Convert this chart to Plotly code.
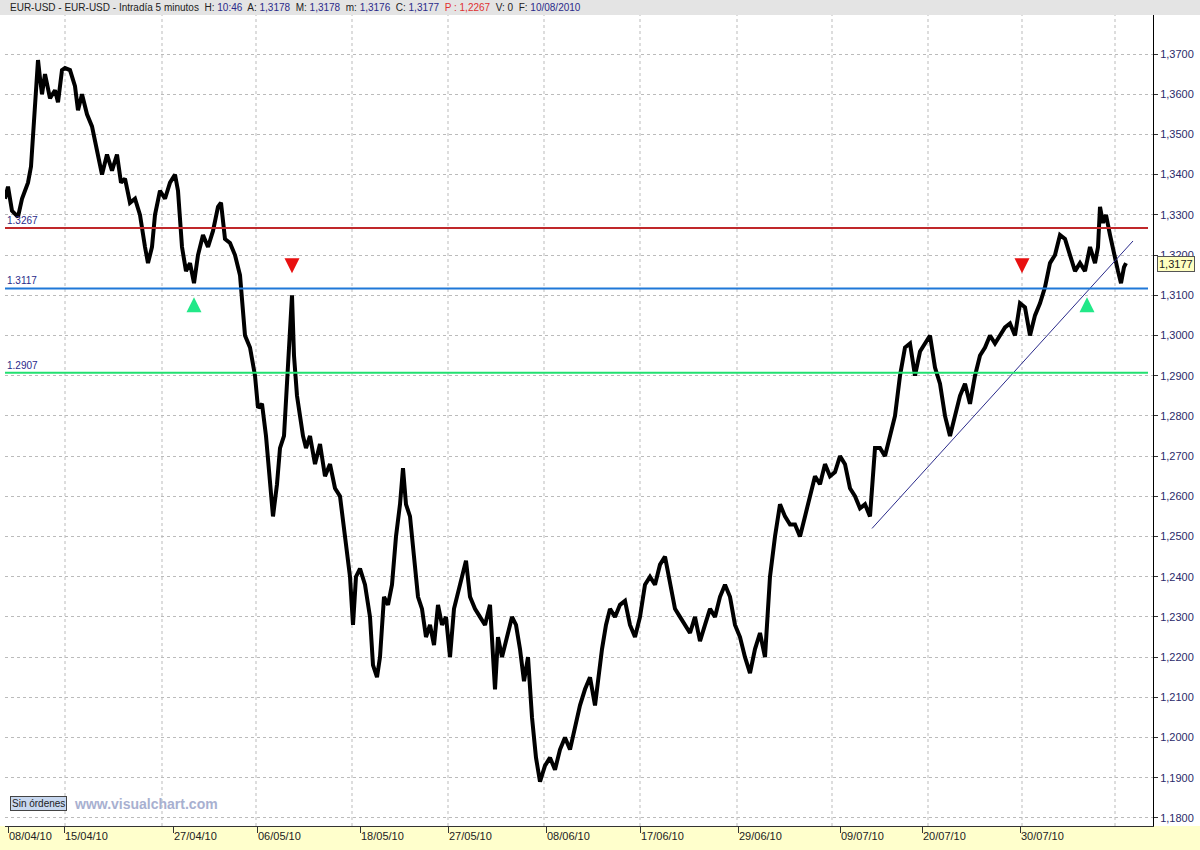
import plotly.graph_objects as go

bar_x = [5, 8, 12, 18, 22, 28, 31, 33, 35, 37, 38, 40, 42, 45, 50, 55, 58, 62, 65, 70, 75, 78, 82, 87, 92,
         97, 102, 107, 112, 117, 121, 125, 130, 135, 140, 145, 148, 152, 155, 160, 165, 170, 175, 178, 182,
         186, 190, 194, 198, 203, 208, 213, 218, 221, 225, 230, 235, 240, 245, 250, 255, 258, 262, 266, 270,
         273, 277, 280, 284, 287, 290, 292, 294, 297, 300, 303, 306, 310, 315, 320, 325, 330, 335, 340, 345,
         350, 353, 356, 360, 365, 370, 373, 377, 380, 384, 388, 392, 396, 400, 403, 406, 410, 414, 418, 422,
         426, 430, 434, 438, 442, 446, 450, 454, 458, 462, 466, 470, 475, 480, 485, 490, 495, 498, 502, 507,
         512, 516, 520, 524, 528, 532, 536, 540, 545, 550, 555, 560, 565, 570, 575, 580, 585, 590, 595, 598,
         602, 606, 610, 615, 620, 625, 630, 635, 640, 645, 650, 655, 660, 665, 670, 675, 680, 685, 690, 695,
         700, 705, 710, 715, 720, 725, 730, 735, 740, 745, 750, 755, 760, 765, 770, 775, 780, 785, 790, 795,
         800, 805, 810, 815, 820, 825, 830, 835, 840, 845, 850, 855, 860, 865, 870, 875, 880, 885, 890, 895,
         900, 905, 910, 915, 920, 925, 930, 935, 940, 945, 950, 955, 960, 965, 970, 975, 980, 985, 990, 995,
         1000, 1005, 1010, 1015, 1020, 1025, 1030, 1035, 1040, 1045, 1050, 1055, 1060, 1065, 1070, 1075,
         1080, 1085, 1090, 1095, 1098, 1100, 1103, 1106, 1110, 1114, 1118, 1121, 1124, 1126]
price = [1.334, 1.337, 1.331, 1.3295, 1.334, 1.338, 1.342, 1.350, 1.360, 1.366, 1.3685, 1.364, 1.360, 1.365,
         1.359, 1.361, 1.358, 1.366, 1.3665, 1.366, 1.362, 1.356, 1.360, 1.355, 1.352, 1.346, 1.340, 1.345,
         1.341, 1.345, 1.338, 1.339, 1.333, 1.334, 1.330, 1.322, 1.318, 1.322, 1.330, 1.336, 1.334, 1.338,
         1.340, 1.336, 1.322, 1.316, 1.318, 1.313, 1.320, 1.325, 1.322, 1.326, 1.332, 1.333, 1.324, 1.323,
         1.320, 1.315, 1.300, 1.297, 1.290, 1.282, 1.283, 1.275, 1.265, 1.255, 1.263, 1.272, 1.275, 1.290,
         1.300, 1.310, 1.295, 1.285, 1.280, 1.275, 1.272, 1.275, 1.268, 1.273, 1.265, 1.268, 1.262, 1.260,
         1.250, 1.240, 1.228, 1.240, 1.242, 1.238, 1.230, 1.218, 1.215, 1.220, 1.235, 1.233, 1.238, 1.250,
         1.258, 1.267, 1.258, 1.255, 1.245, 1.235, 1.232, 1.225, 1.228, 1.223, 1.233, 1.228, 1.230, 1.220,
         1.232, 1.236, 1.240, 1.244, 1.235, 1.232, 1.230, 1.228, 1.233, 1.212, 1.225, 1.220, 1.225, 1.230,
         1.228, 1.222, 1.214, 1.220, 1.205, 1.195, 1.189, 1.193, 1.195, 1.192, 1.197, 1.200, 1.197, 1.203,
         1.208, 1.212, 1.215, 1.208, 1.215, 1.222, 1.228, 1.232, 1.230, 1.233, 1.234, 1.228, 1.225, 1.230,
         1.238, 1.240, 1.238, 1.243, 1.245, 1.238, 1.232, 1.230, 1.228, 1.226, 1.230, 1.224, 1.228, 1.232,
         1.230, 1.235, 1.238, 1.235, 1.228, 1.225, 1.220, 1.216, 1.222, 1.226, 1.220, 1.240, 1.250, 1.258,
         1.255, 1.253, 1.253, 1.250, 1.255, 1.260, 1.265, 1.263, 1.268, 1.265, 1.266, 1.270, 1.268, 1.262,
         1.260, 1.257, 1.258, 1.255, 1.272, 1.272, 1.270, 1.275, 1.280, 1.290, 1.297, 1.298, 1.290, 1.296,
         1.298, 1.300, 1.292, 1.288, 1.280, 1.275, 1.280, 1.285, 1.288, 1.283, 1.290, 1.295, 1.297, 1.300,
         1.298, 1.300, 1.302, 1.303, 1.300, 1.308, 1.307, 1.300, 1.305, 1.308, 1.312, 1.318, 1.320, 1.325,
         1.324, 1.320, 1.316, 1.318, 1.316, 1.322, 1.318, 1.322, 1.332, 1.328, 1.330, 1.325, 1.320, 1.316,
         1.313, 1.317, 1.318]

levels = [1.3267, 1.3117, 1.2907]
level_labels = ["1.3267", "1.3117", "1.2907"]
level_colors = ["#c0282a", "#1f78d8", "#22e070"]

trend_x = [872, 1133]
trend_y = [1.252, 1.3235]

up_x = [194, 1087]
up_y = [1.3095, 1.3095]
down_x = [292, 1022]
down_y = [1.3155, 1.3155]

date_pos = [8, 64, 173, 257, 360, 448, 546, 640, 738, 840, 922, 1020]
date_text = ["08/04/10", "15/04/10", "27/04/10", "06/05/10", "18/05/10", "27/05/10",
             "08/06/10", "17/06/10", "29/06/10", "09/07/10", "20/07/10", "30/07/10"]
grid_x = [65, 162, 256, 352, 448, 544, 640, 737, 832, 928, 1022, 1115]
price_ticks = [1.18 + 0.01 * i for i in range(21)]

fig = go.Figure()
fig.add_trace(go.Scatter(x=bar_x, y=price, mode="lines", line=dict(color="black", width=4)))
fig.add_trace(go.Scatter(x=trend_x, y=trend_y, mode="lines", line=dict(color="#2a2a8a", width=1)))
fig.add_trace(go.Scatter(x=up_x, y=up_y, mode="markers",
                         marker=dict(symbol="arrow-up", size=15, color="#22e888")))
fig.add_trace(go.Scatter(x=down_x, y=down_y, mode="markers",
                         marker=dict(symbol="arrow-down", size=15, color="#e81010")))

shapes = []
for gx in grid_x:
    shapes.append(dict(type="line", xref="x", yref="paper", x0=gx, x1=gx, y0=0, y1=1,
                       line=dict(color="#bbbbbb", width=1, dash="dot"), layer="below"))
for lv, col in zip(levels, level_colors):
    shapes.append(dict(type="line", xref="x", yref="y", x0=5, x1=1148, y0=lv, y1=lv,
                       line=dict(color=col, width=2)))
# header and date band
shapes.append(dict(type="rect", xref="paper", yref="paper", x0=-0.01, x1=1.05, y0=1.0, y1=1.03,
                   fillcolor="#e4e4e4", line=dict(width=0)))
shapes.append(dict(type="rect", xref="paper", yref="paper", x0=-0.01, x1=1.05, y0=-0.04, y1=0,
                   fillcolor="#ffffcc", line=dict(width=0), layer="below"))

annotations = []
for lv, lab in zip(levels, level_labels):
    annotations.append(dict(x=5, y=lv, xref="x", yref="y", text=lab, showarrow=False,
                            xanchor="left", yanchor="bottom", font=dict(size=10, color="#2a2a8a")))
annotations.append(dict(x=0.003, y=1.0, xref="paper", yref="paper", xanchor="left", yanchor="bottom",
                        showarrow=False, font=dict(size=10, color="#222"),
                        text="EUR-USD - EUR-USD - Intradía 5 minutos  H: <span style='color:#2a2a8a'>10:46</span>"
                             "  A: <span style='color:#2a2a8a'>1,3178</span>  M: <span style='color:#2a2a8a'>1,3178</span>"
                             "  m: <span style='color:#2a2a8a'>1,3176</span>  C: <span style='color:#2a2a8a'>1,3177</span>"
                             "  <span style='color:#e03030'>P : 1,2267</span>  V: 0  F: <span style='color:#2a2a8a'>10/08/2010</span>"))
annotations.append(dict(x=1.0, y=1.3177, xref="paper", yref="y", xanchor="left", xshift=4, text="1,3177",
                        showarrow=False, bgcolor="#ffffc0", bordercolor="#555", borderwidth=1,
                        font=dict(size=11, color="#222")))
annotations.append(dict(x=10, y=1.1835, xref="x", yref="y", xanchor="left", text="Sin órdenes",
                        showarrow=False, bgcolor="#c8d8f0", bordercolor="#444", borderwidth=1,
                        font=dict(size=10, color="#222")))
annotations.append(dict(x=72, y=1.1835, xref="x", yref="y", xanchor="left", text="<b>www.visualchart.com</b>",
                        showarrow=False, font=dict(size=14, color="#a8b0d0")))

fig.update_layout(
    width=1200, height=850, showlegend=False,
    margin=dict(l=5, r=47, t=15, b=24, autoexpand=False),
    plot_bgcolor="white", paper_bgcolor="white",
    separators=",.",
    font=dict(family="Liberation Sans, Arial", size=11, color="#333"),
    shapes=shapes, annotations=annotations,
)
fig.update_xaxes(range=[5, 1153], tickvals=date_pos, ticktext=date_text, showgrid=False,
                 ticks="outside", ticklen=6, tickcolor="#333", showline=True, linecolor="#333",
                 ticklabelposition="outside right", automargin=False,
                 zeroline=False, tickfont=dict(size=11, color="#222"))
fig.update_yaxes(side="right", range=[1.178, 1.3797], tickvals=price_ticks, tickformat=".4f",
                 ticks="outside", ticklen=4, tickcolor="#333", showline=True, linecolor="black",
                 linewidth=1, showgrid=True, gridcolor="#bbbbbb", griddash="dot", zeroline=False,
                 automargin=False, tickfont=dict(size=11, color="#2a2a6a"))

fig.write_html("out.html", config={"displayModeBar": False},
               post_script="document.body.style.margin='0';")
